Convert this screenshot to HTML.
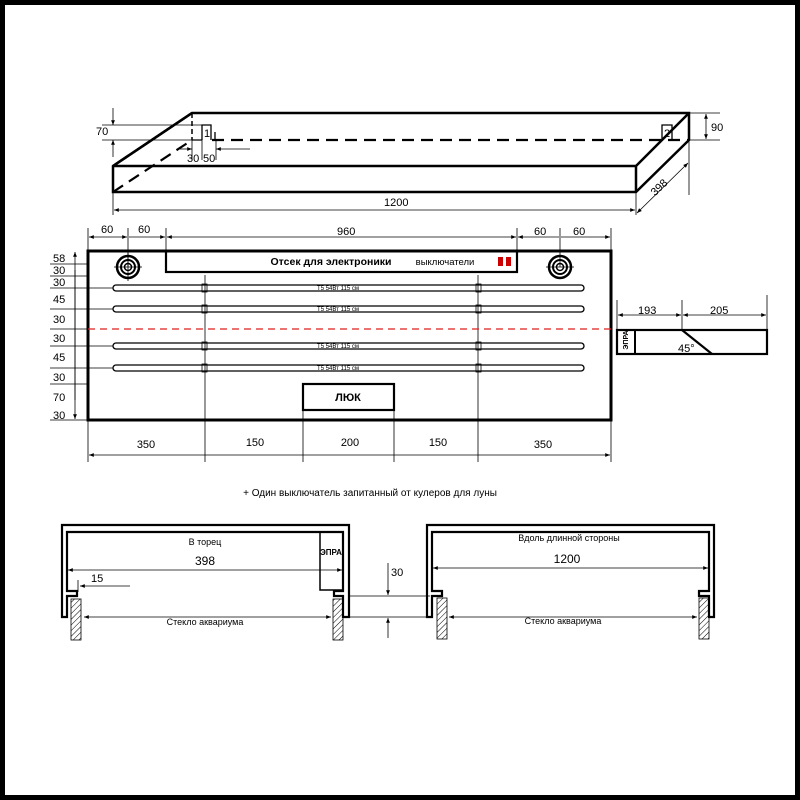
<!DOCTYPE html>
<html><head><meta charset="utf-8"><style>
html,body{margin:0;padding:0;background:#fff}
svg{display:block;font-family:"Liberation Sans",Arial,sans-serif}
</style></head><body>
<svg width="800" height="800" viewBox="0 0 800 800" xmlns="http://www.w3.org/2000/svg">
<defs>
<marker id="a" viewBox="0 0 10 10" refX="10" refY="5" markerWidth="8" markerHeight="6" orient="auto-start-reverse"><path d="M0,1 L10,5 L0,9 z" fill="#000"/></marker>
<pattern id="h" width="4" height="4" patternUnits="userSpaceOnUse" patternTransform="rotate(45)"><line x1="0" y1="0" x2="0" y2="4" stroke="#000" stroke-width="1"/></pattern>
</defs>
<rect x="0" y="0" width="800" height="800" fill="#fff"/>
<rect x="2.5" y="2.5" width="795" height="795" fill="none" stroke="#000" stroke-width="5"/>

<g stroke="#000" fill="none">
<path d="M192,113 L689,113 L689,140 L636,192 L113,192 L113,166 Z" stroke-width="2.5"/>
<path d="M113,166 L192,113 M113,166 L636,166 L689,113 M636,166 L636,192" stroke-width="2.5"/>
<path d="M212,140 L689,140" stroke-width="2.2" stroke-dasharray="12,7"/>
<path d="M113,192 L192,140" stroke-width="2.2" stroke-dasharray="12,7"/>
<path d="M192,113 L192,140" stroke-width="1.5" stroke-dasharray="5,3"/>
<path d="M192,140 L202,140 M202,140 L202,125 L211,125 L211,140 M215,132 L215,140" stroke-width="1.3"/>
<path d="M672,140 L672,125 L662,125 L662,140" stroke-width="1.3"/>
<path d="M102,125 L210,125 M102,140 L192,140" stroke-width="0.8"/>
<path d="M113,108 L113,125" stroke-width="0.8" marker-end="url(#a)"/>
<path d="M113,157 L113,140" stroke-width="0.8" marker-end="url(#a)"/>
<path d="M192,140 L192,160 M202,140 L202,160 M216,140 L216,160" stroke-width="0.8"/>
<path d="M250,149 L216,149" stroke-width="0.8" marker-end="url(#a)"/>
<path d="M180,149 L192,149" stroke-width="0.8" marker-end="url(#a)"/>
<path d="M689,113 L720,113 M689,140 L720,140" stroke-width="0.8"/>
<path d="M706,127 L706,114" stroke-width="0.8" marker-end="url(#a)"/>
<path d="M706,127 L706,139" stroke-width="0.8" marker-end="url(#a)"/>
<path d="M113,192 L113,215 M636,192 L636,215 M689,140 L689,195" stroke-width="0.8"/>
<path d="M114,210 L635,210" stroke-width="0.8" marker-start="url(#a)" marker-end="url(#a)"/>
<path d="M637,213 L688,163" stroke-width="0.8" marker-start="url(#a)" marker-end="url(#a)"/>
</g>
<g font-size="11" fill="#000">
<text x="96" y="135">70</text>
<text x="187" y="162">30</text><text x="203" y="162">50</text>
<text x="204" y="137">1</text><text x="664" y="137">2</text>
<text x="711" y="131">90</text>
<text x="384" y="206">1200</text>
<text x="650" y="192" transform="rotate(-44 658 188)">398</text>
</g>

<g stroke="#000" fill="none" stroke-width="0.8">
<path d="M88,228 L88,251 M128,228 L128,267 M166,228 L166,251 M517,228 L517,251 M560,228 L560,267 M611,228 L611,251"/>
<path d="M89,237 L127,237" marker-start="url(#a)" marker-end="url(#a)"/>
<path d="M129,237 L165,237" marker-end="url(#a)"/>
<path d="M167,237 L516,237" marker-start="url(#a)" marker-end="url(#a)"/>
<path d="M518,237 L559,237" marker-start="url(#a)"/>
<path d="M561,237 L610,237" marker-end="url(#a)"/>
</g>
<g font-size="11"><text x="101" y="233">60</text><text x="138" y="233">60</text><text x="337" y="235">960</text><text x="534" y="235">60</text><text x="573" y="235">60</text></g>

<g stroke="#000" fill="none">
<rect x="88" y="251" width="523" height="169" stroke-width="3"/>
<rect x="166" y="251" width="351" height="21" stroke-width="2.2"/>
<path d="M205,275 L205,462 M478,275 L478,462 M303,410 L303,462 M394,410 L394,462 M88,420 L88,462 M611,420 L611,462" stroke-width="0.8"/>
<rect x="303" y="384" width="91" height="26" stroke-width="2.2"/>
<path d="M88,329 L611,329" stroke="#d22" stroke-width="1.2" stroke-dasharray="7,5"/>
</g>
<g stroke="#000" fill="none">
<circle cx="128" cy="267" r="11" stroke-width="2.5"/><circle cx="128" cy="267" r="7" stroke-width="2"/><circle cx="128" cy="267" r="3.5" stroke-width="1.5"/>
<circle cx="560" cy="267" r="11" stroke-width="2.5"/><circle cx="560" cy="267" r="7" stroke-width="2"/><circle cx="560" cy="267" r="3.5" stroke-width="1.5"/>
<path d="M114,267 L142,267 M546,267 L574,267 M128,253 L128,281" stroke-width="0.8"/>
</g>
<rect x="498" y="257" width="5" height="9" fill="#c00"/><rect x="506" y="257" width="5" height="9" fill="#c00"/>
<g stroke="#000" fill="none" stroke-width="1.3">
<rect x="113" y="285" width="471" height="6" rx="3"/>
<rect x="113" y="306" width="471" height="6" rx="3"/>
<rect x="113" y="343" width="471" height="6" rx="3"/>
<rect x="113" y="365" width="471" height="6" rx="3"/>
<g stroke-width="0.8">
<rect x="202" y="284" width="5" height="8"/><rect x="476" y="284" width="5" height="8"/>
<rect x="202" y="305" width="5" height="8"/><rect x="476" y="305" width="5" height="8"/>
<rect x="202" y="342" width="5" height="8"/><rect x="476" y="342" width="5" height="8"/>
<rect x="202" y="364" width="5" height="8"/><rect x="476" y="364" width="5" height="8"/>
</g>
</g>
<g font-size="6" text-anchor="middle"><text x="338" y="290">Т5 54Вт 115 см</text><text x="338" y="311">Т5 54Вт 115 см</text><text x="338" y="348">Т5 54Вт 115 см</text><text x="338" y="370">Т5 54Вт 115 см</text></g>
<text x="331" y="265" font-size="10.5" font-weight="bold" text-anchor="middle">Отсек для электроники</text>
<text x="445" y="265" font-size="9.5" text-anchor="middle">выключатели</text>
<text x="348" y="401" font-size="11" font-weight="bold" text-anchor="middle">ЛЮК</text>

<g stroke="#000" stroke-width="0.8" fill="none">
<path d="M50,264 L88,264 M50,276 L88,276 M50,288 L113,288 M50,309 L113,309 M50,329 L88,329 M50,346 L113,346 M50,368 L113,368 M50,384 L88,384 M50,420 L88,420"/>
<path d="M75,400 L75,252" marker-end="url(#a)"/><path d="M75,270 L75,419" marker-end="url(#a)"/>
</g>
<g font-size="11"><text x="53" y="262">58</text><text x="53" y="274">30</text><text x="53" y="286">30</text><text x="53" y="303">45</text><text x="53" y="323">30</text><text x="53" y="342">30</text><text x="53" y="361">45</text><text x="53" y="381">30</text><text x="53" y="401">70</text><text x="53" y="419">30</text></g>

<path d="M89,455 L610,455" stroke="#000" stroke-width="0.8" marker-start="url(#a)" marker-end="url(#a)"/>
<g font-size="11" text-anchor="middle"><text x="146" y="448">350</text><text x="255" y="446">150</text><text x="350" y="446">200</text><text x="438" y="446">150</text><text x="543" y="448">350</text></g>

<g stroke="#000" fill="none">
<rect x="617" y="330" width="150" height="24" stroke-width="2.2"/>
<path d="M635,330 L635,354" stroke-width="2"/>
<path d="M682,330 L712,354" stroke-width="2.2"/>
<path d="M617,300 L617,330 M682,300 L682,330 M767,295 L767,330" stroke-width="0.8"/>
<path d="M618,315 L681,315" stroke-width="0.8" marker-start="url(#a)" marker-end="url(#a)"/>
<path d="M683,315 L766,315" stroke-width="0.8" marker-start="url(#a)" marker-end="url(#a)"/>
</g>
<g font-size="11"><text x="638" y="314">193</text><text x="710" y="314">205</text><text x="678" y="352">45°</text></g>
<text x="630" y="342" font-size="7" font-weight="bold" text-anchor="middle" transform="rotate(-90 628 342)">ЭПРА</text>

<text x="370" y="496" font-size="10" text-anchor="middle">+ Один выключатель запитанный от кулеров для луны</text>

<g stroke="#000" fill="none">
<path d="M62,617 L62,525 L349,525 L349,617 L343,617 L343,596 L334,596 L334,591 L343,591 L343,532 L67,532 L67,591 L77,591 L77,596 L67,596 L67,617 Z" stroke-width="2.2"/>
<path d="M320,532 L320,590 L343,590" stroke-width="1.5"/>
<rect x="71" y="599" width="10" height="41" fill="url(#h)" stroke-width="0.8"/>
<rect x="333" y="599" width="10" height="41" fill="url(#h)" stroke-width="0.8"/>
<path d="M68,570 L342,570" stroke-width="0.8" marker-start="url(#a)" marker-end="url(#a)"/>
<path d="M78,580 L78,592" stroke-width="0.8"/>
<path d="M130,586 L80,586" stroke-width="0.8" marker-end="url(#a)"/>
<path d="M84,617 L331,617" stroke-width="0.8" marker-start="url(#a)" marker-end="url(#a)"/>
<path d="M349,596 L430,596 M349,617 L430,617" stroke-width="0.8"/>
<path d="M388,563 L388,595" stroke-width="0.8" marker-end="url(#a)"/>
<path d="M388,638 L388,618" stroke-width="0.8" marker-end="url(#a)"/>
</g>
<text x="205" y="545" font-size="9" text-anchor="middle">В торец</text>
<text x="205" y="565" font-size="12" text-anchor="middle">398</text>
<text x="91" y="582" font-size="11">15</text>
<text x="205" y="625" font-size="9" text-anchor="middle">Стекло аквариума</text>
<text x="331" y="555" font-size="8" font-weight="bold" text-anchor="middle">ЭПРА</text>
<text x="391" y="576" font-size="11">30</text>

<g stroke="#000" fill="none">
<path d="M427,617 L427,525 L714,525 L714,617 L709,617 L709,596 L699,596 L699,591 L709,591 L709,532 L432,532 L432,591 L442,591 L442,596 L432,596 L432,617 Z" stroke-width="2.2"/>
<rect x="437" y="598" width="10" height="41" fill="url(#h)" stroke-width="0.8"/>
<rect x="699" y="598" width="10" height="41" fill="url(#h)" stroke-width="0.8"/>
<path d="M433,568 L708,568" stroke-width="0.8" marker-start="url(#a)" marker-end="url(#a)"/>
<path d="M449,617 L697,617" stroke-width="0.8" marker-start="url(#a)" marker-end="url(#a)"/>
</g>
<text x="569" y="541" font-size="9" text-anchor="middle">Вдоль длинной стороны</text>
<text x="567" y="563" font-size="12" text-anchor="middle">1200</text>
<text x="563" y="624" font-size="9" text-anchor="middle">Стекло аквариума</text>
</svg>
</body></html>
